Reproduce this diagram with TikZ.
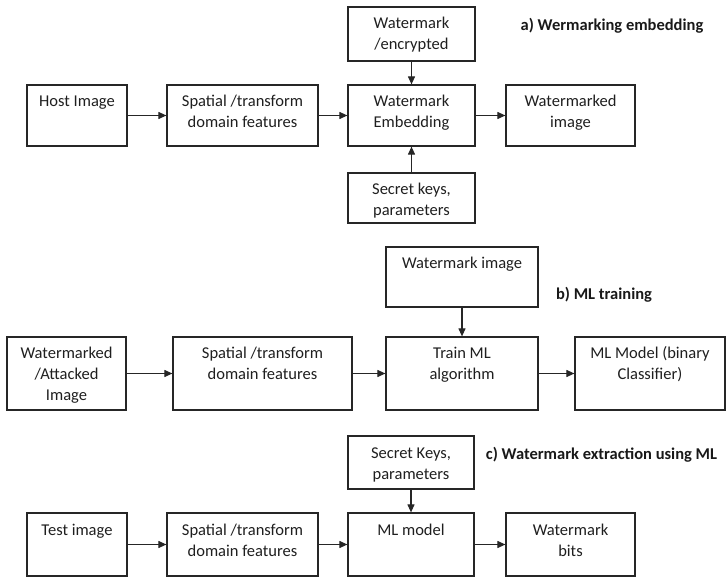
\documentclass[tikz,border=0pt]{standalone}
\usepackage{fontspec}
\setmainfont{Carlito}
\usetikzlibrary{arrows.meta}

% top-aligned, centred box text of a fixed size
\newcommand{\bxtext}[3]{\parbox[c][#2pt][t]{#1pt}{\centering\vspace*{7.3pt}\strut #3}}

\tikzset{
  blk/.style={draw=black!85, line width=1.2pt, inner sep=0pt,
    text=black!88, font=\fontsize{16.5}{21}\selectfont},
  ttl/.style={inner sep=0pt, text=black!90,
    font=\fontsize{16.5}{21}\selectfont\bfseries},
  arr/.style={draw=black!85, line width=1.1pt,
    -{Triangle[length=8pt,width=7pt]}}
}

\begin{document}
\begin{tikzpicture}[x=1pt,y=-1pt]
\useasboundingbox (0,0) rectangle (726,577);

% a) embedding
\node[blk] (wmenc) at (411.5,34)    {\bxtext{127}{54}{Watermark\\/encrypted}};
\node[blk] (host)  at (77,115.5)    {\bxtext{100}{61}{Host Image}};
\node[blk] (spa)   at (242.5,115.5) {\bxtext{151}{61}{Spatial /transform\\domain features}};
\node[blk] (emb)   at (411.5,115.5) {\bxtext{127}{61}{Watermark\\Embedding}};
\node[blk] (wmd)   at (570.5,115.5) {\bxtext{129}{61}{Watermarked\\image}};
\node[blk] (keys)  at (411.5,198)   {\bxtext{127}{50}{Secret keys,\\parameters}};
\node[ttl] (ta)    at (612,26)      {a) Wermarking embedding};

\draw[arr] (host) -- (spa);
\draw[arr] (spa) -- (emb);
\draw[arr] (emb) -- (wmd);
\draw[arr] (wmenc) -- (emb);
\draw[arr] (keys) -- (emb);

% b) training
\node[blk] (wmimg) at (462,277)     {\bxtext{152}{60}{Watermark image}};
\node[blk] (wat)   at (66.5,373.5)  {\bxtext{119}{73}{Watermarked\\/Attacked\\Image}};
\node[blk] (spb)   at (262.5,373.5) {\bxtext{179}{73}{Spatial /transform\\domain features}};
\node[blk] (train) at (462,373.5)   {\bxtext{152}{73}{Train ML\\algorithm}};
\node[blk] (model) at (650,373.5)   {\bxtext{150}{73}{ML Model (binary\\Classifier)}};
\node[ttl] (tb)    at (604,295)     {b) ML training};

\draw[arr] (wat) -- (spb);
\draw[arr] (spb) -- (train);
\draw[arr] (train) -- (model);
\draw[arr] (wmimg) -- (train);

% c) extraction
\node[blk] (keysc) at (411,462.5)   {\bxtext{126}{53}{Secret Keys,\\parameters}};
\node[blk] (test)  at (77,544.5)    {\bxtext{100}{63}{Test image}};
\node[blk] (spc)   at (242.5,544.5) {\bxtext{151}{63}{Spatial /transform\\domain features}};
\node[blk] (mlm)   at (411,544.5)   {\bxtext{126}{63}{ML model}};
\node[blk] (bits)  at (570.5,544.5) {\bxtext{129}{63}{Watermark\\bits}};
\node[ttl] (tc)    at (601.5,455)   {c) Watermark extraction using ML};

\draw[arr] (test) -- (spc);
\draw[arr] (spc) -- (mlm);
\draw[arr] (mlm) -- (bits);
\draw[arr] (keysc) -- (mlm);
\end{tikzpicture}
\end{document}
